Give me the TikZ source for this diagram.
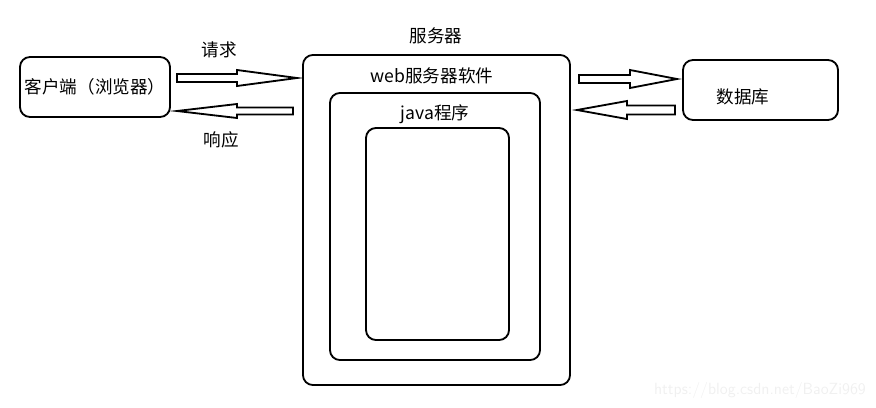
\documentclass[tikz,border=0pt]{standalone}
\usepackage{fontspec}
\usepackage{tikz}
\newfontfamily\cjk{Noto Sans CJK SC}

\begin{document}
\begin{tikzpicture}[x=0.025cm, y=-0.025cm,
    every node/.style={font=\cjk\fontsize{12.5pt}{14pt}\selectfont},
    box/.style={draw, line width=1.3pt, rounded corners=0.25cm, inner sep=0pt},
    hollow/.style={draw, line width=1.3pt, line join=miter}]
    \useasboundingbox (0,0) rectangle (876,408);

    \node[box, minimum width=3.75cm, minimum height=1.5cm] (client) at (95,87) {客户端（浏览器）};
    \node[box, minimum width=6.675cm, minimum height=8.25cm] (server) at (436.5,220) {};
    \node[box, minimum width=5.25cm, minimum height=6.675cm] (web) at (435,226.5) {};
    \node[box, minimum width=3.575cm, minimum height=5.3cm] (java) at (437.5,234) {};
    \node[box, minimum width=3.875cm, minimum height=1.5cm] (db) at (760.5,90) {};

    \node (serverlabel) at (436,36) {服务器};
    \node (weblabel) at (432,76) {web服务器软件};
    \node (javalabel) at (435,114) {java程序};
    \node (dblabel) at (743,97) {数据库};

    \coordinate (reqtail) at (177,78);
    \coordinate (reqtip) at (297,78);
    \coordinate (resptail) at (293,111);
    \coordinate (resptip) at (177,111);
    \coordinate (querytail) at (579,79);
    \coordinate (querytip) at (677,79);
    \coordinate (resulttail) at (675,110);
    \coordinate (resulttip) at (577,110);

    \draw[hollow] (reqtail) ++(0,-4) -- ++(60,0) -- ++(0,-4) -- (reqtip) -- ++(-60,8) -- ++(0,-4) -- ++(-60,0) -- cycle;
    \draw[hollow] (resptail) ++(0,-3.5) -- ++(-56,0) -- ++(0,-3.5) -- (resptip) -- ++(60,7) -- ++(0,-3.5) -- ++(56,0) -- cycle;
    \draw[hollow] (querytail) ++(0,-4) -- ++(51,0) -- ++(0,-5) -- (querytip) -- ++(-47,9) -- ++(0,-5) -- ++(-51,0) -- cycle;
    \draw[hollow] (resulttail) ++(0,-4.5) -- ++(-48,0) -- ++(0,-4.5) -- (resulttip) -- ++(50,9) -- ++(0,-4.5) -- ++(48,0) -- cycle;

    \node (reqlabel) at (219,50) {请求};
    \node (resplabel) at (221,140) {响应};

    \node[text=black!6, font=\sffamily\fontsize{11.5pt}{13pt}\selectfont] (mark) at (760,390) {https://blog.csdn.net/BaoZi969};
\end{tikzpicture}
\end{document}
